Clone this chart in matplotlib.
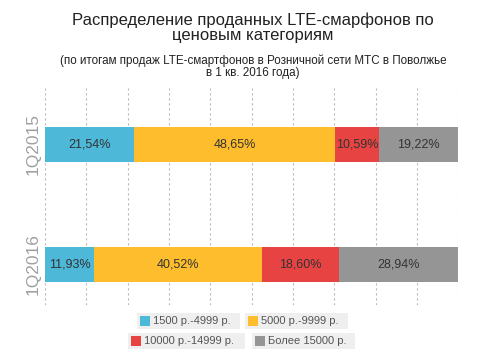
import numpy as np
import matplotlib.pyplot as plt
from matplotlib.patches import Rectangle

plt.rcParams['font.family'] = ['Liberation Sans', 'DejaVu Sans']

periods = ['1Q2015', '1Q2016']
categories = ['1500 р.-4999 р.', '5000 р.-9999 р.', '10000 р.-14999 р.', 'Более 15000 р.']
shares = {
    '1Q2015': [21.54, 48.65, 10.59, 19.22],
    '1Q2016': [11.93, 40.52, 18.60, 28.94],
}
colors = ['#4db8d8', '#fdbd2c', '#e84343', '#959595']

fig = plt.figure(figsize=(4.89, 3.52), dpi=100)
ax = fig.add_axes([0.092, 0.134, 0.845, 0.616])

ypos = [1, 0]
for yp, period in zip(ypos, periods):
    left = 0
    for val, c in zip(shares[period], colors):
        ax.barh(yp, val, left=left, height=0.29, color=c, zorder=3)
        ax.text(left + val / 2, yp, f'{val:.2f}%'.replace('.', ','),
                ha='center', va='center', fontsize=9, color='#333333', zorder=4)
        left += val

ax.set_xlim(0, 100)
ax.set_ylim(-0.3375, 1.47)
for xv in np.arange(0, 101, 10):
    ax.axvline(xv, color='#b8b8b8', linestyle=(0, (2, 2.5)), linewidth=0.8, zorder=1)

ax.set_yticks(ypos)
ax.set_yticklabels(periods, rotation=90, va='center', fontsize=12.5, color='#a0a0a0')
ax.set_xticks([])
ax.tick_params(axis='y', length=0, pad=3)
for s in ax.spines.values():
    s.set_visible(False)

fig.text(0.517, 0.965, 'Распределение проданных LTE-смарфонов по\nценовым категориям',
         ha='center', va='top', fontsize=12, color='#222222', linespacing=1.0)
fig.text(0.517, 0.845, '(по итогам продаж LTE-смартфонов в Розничной сети МТС в Поволжье\nв 1 кв. 2016 года)',
         ha='center', va='top', fontsize=8.4, color='#222222', linespacing=0.95)

# legend: individual grey boxes, two rows
W, H = 489, 352
leg = [(137, 313, 240), (245, 313, 348), (128, 333, 245), (252, 333, 355)]
for (x0, y0, x1), cat, c in zip(leg, categories, colors):
    fig.patches.append(Rectangle((x0 / W, 1 - (y0 + 16) / H), (x1 - x0) / W, 16 / H,
                                 transform=fig.transFigure, facecolor='#efefef',
                                 edgecolor='none'))
    fig.patches.append(Rectangle(((x0 + 3) / W, 1 - (y0 + 13) / H), 10 / W, 10 / H,
                                 transform=fig.transFigure, facecolor=c, edgecolor='none'))
    fig.text((x0 + 16) / W, 1 - (y0 + 8) / H, cat, ha='left', va='center',
             fontsize=8, color='#555555')

fig.savefig('out.png', dpi=100)
